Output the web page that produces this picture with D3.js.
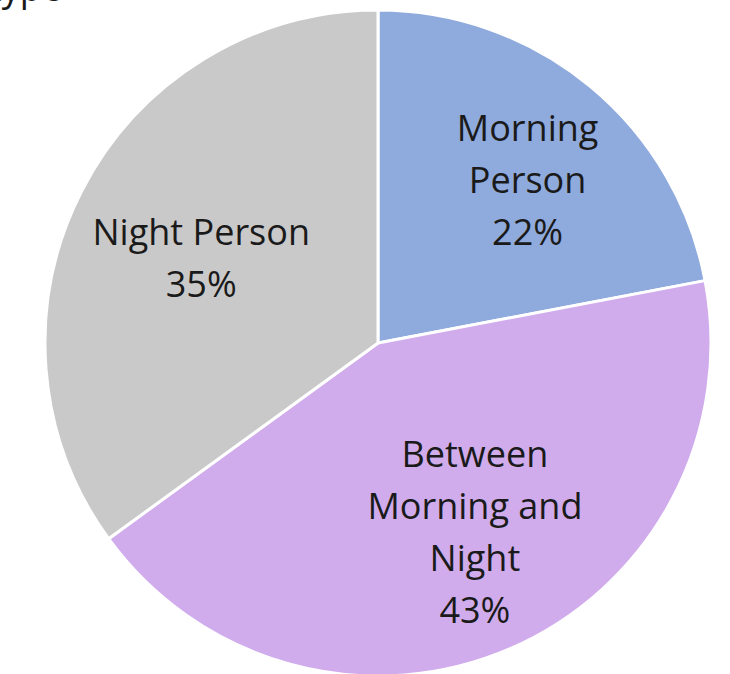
<!DOCTYPE html>
<html>
<head>
<meta charset="utf-8">
<script src="https://cdn.jsdelivr.net/npm/d3@7/dist/d3.min.js"></script>
<style>
  html, body { margin: 0; padding: 0; background: #fff; overflow: hidden; }
  svg { display: block; }
</style>
</head>
<body>
<svg id="chart" width="730" height="674"></svg>
<script>
// Chronotype survey shares
const categories = ["Morning Person", "Between Morning and Night", "Night Person"];
const labelLines = [["Morning", "Person"], ["Between", "Morning and", "Night"], ["Night Person"]];
const values = [22, 43, 35];
const colors = ["#8FAADC", "#D0ACEC", "#C9C9C9"];
const titleText = "Chronotype";

const W = 730, H = 674;
const cx = 378, cy = 343, radius = 333;
const fontFamily = "'Open Sans', 'Noto Sans', sans-serif";
const fontSize = 36, lineH = 52;
// label placement: distance from centre and angular nudge (degrees) per slice
const labelPlacement = [{ r: 221, da: 3 }, { r: 212, da: -3.8 }, { r: 196, da: -1.4 }];

const svg = d3.select("#chart");

// title sits mostly above the visible area
svg.append("text")
  .attr("x", 62).attr("y", 0.5)
  .attr("text-anchor", "end")
  .attr("font-family", fontFamily)
  .attr("font-size", fontSize)
  .attr("fill", "#1a1a1a")
  .text(titleText);

const data = categories.map((c, i) => ({ name: c, lines: labelLines[i], value: values[i], color: colors[i], place: labelPlacement[i] }));

const pie = d3.pie().value(d => d.value).sort(null);
const arcs = pie(data);
const arc = d3.arc().innerRadius(0).outerRadius(radius);

const g = svg.append("g").attr("transform", `translate(${cx},${cy})`);

g.selectAll("path.slice")
  .data(arcs)
  .join("path")
  .attr("class", "slice")
  .attr("d", arc)
  .attr("fill", d => d.data.color)
  .attr("stroke", "#fff")
  .attr("stroke-width", 3)
  .attr("stroke-linejoin", "round");

const labels = g.selectAll("text.lbl")
  .data(arcs)
  .join("text")
  .attr("class", "lbl")
  .attr("text-anchor", "middle")
  .attr("font-family", fontFamily)
  .attr("font-size", fontSize)
  .attr("fill", "#1a1a1a")
  .attr("transform", d => {
    const a = (d.startAngle + d.endAngle) / 2 + d.data.place.da * Math.PI / 180;
    const x = d.data.place.r * Math.sin(a);
    const y = -d.data.place.r * Math.cos(a);
    return `translate(${x},${y})`;
  });

labels.each(function(d) {
  const lines = d.data.lines.concat([d.data.value + "%"]);
  const n = lines.length;
  const t = d3.select(this);
  lines.forEach((ln, i) => {
    t.append("tspan")
      .attr("x", 0)
      .attr("y", (i - (n - 1) / 2) * lineH + 13)
      .text(ln);
  });
});
</script>
</body>
</html>
